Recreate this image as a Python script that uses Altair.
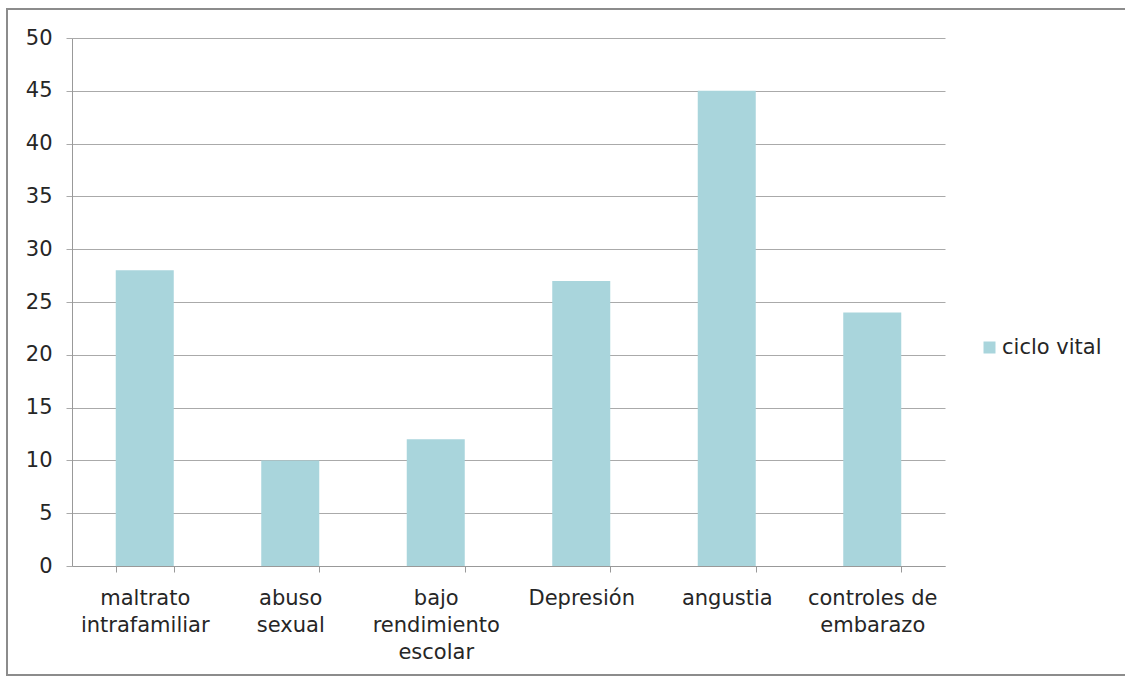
import altair as alt
import pandas as pd

categories = ["maltrato\nintrafamiliar", "abuso\nsexual", "bajo\nrendimiento\nescolar",
              "Depresión", "angustia", "controles de\nembarazo"]
values = [28, 10, 12, 27, 45, 24]
series = ["ciclo vital"] * 6

df = pd.DataFrame({"cat": categories, "val": values, "serie": series})

FONT = "DejaVu Sans"
FS = 21
TXT = "#262626"

bars = alt.Chart(df).mark_bar(size=58).encode(
    x=alt.X("cat:N", sort=categories, title=None,
            scale=alt.Scale(paddingInner=0.6, paddingOuter=0.3),
            axis=alt.Axis(labelAngle=0, labelExpr="split(datum.label, '\\n')",
                          labelLineHeight=27, labelFontSize=FS, labelColor=TXT,
                          labelFont=FONT, labelPadding=15, labelBaseline="top",
                          tickBand="extent", tickSize=6, tickColor="#999",
                          domainColor="#999", grid=False, labelLimit=300)),
    y=alt.Y("val:Q", title=None,
            scale=alt.Scale(domain=[0, 50], nice=False),
            axis=alt.Axis(values=list(range(0, 51, 5)), labelFontSize=FS,
                          labelColor=TXT, labelFont=FONT, labelPadding=14,
                          tickSize=6, tickColor="#aaa", domainColor="#999",
                          gridColor="#aaa", gridWidth=1)),
    color=alt.Color("serie:N", scale=alt.Scale(range=["#a9d5dc"]),
                    legend=alt.Legend(title=None, orient="none", legendX=907, legendY=299,
                                      symbolType="square", symbolSize=144,
                                      labelFontSize=FS, labelFont=FONT, labelColor=TXT,
                                      symbolStrokeWidth=0, labelOffset=2)),
)

border = alt.Chart(pd.DataFrame({"a": [0]})).mark_rect(
    fill=None, stroke="#8c8c8c", strokeWidth=2
).encode(x=alt.value(-65), x2=alt.value(1060), y=alt.value(-29), y2=alt.value(637))

chart = alt.layer(bars, border).properties(
    width=873, height=528,
    padding={"left": 72, "top": 38, "right": 180, "bottom": 111},
    autosize=alt.AutoSizeParams(type="none"),
    background="white",
).configure_view(stroke=None)

chart.save("out.html", embed_options={"renderer": "svg", "actions": False})
